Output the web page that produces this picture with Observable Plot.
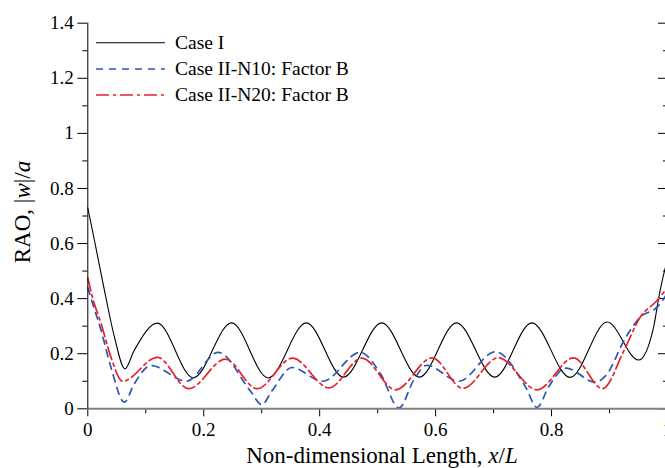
<!DOCTYPE html>
<html><head><meta charset="utf-8">
<script src="https://cdn.jsdelivr.net/npm/d3@7"></script>
<script src="https://cdn.jsdelivr.net/npm/@observablehq/plot@0.6"></script>
<style>html,body{margin:0;padding:0;background:#fff;overflow:hidden}</style>
</head><body><div id="chart"></div>
<script>
// ---- data ----
const seriesNames = ["Case I", "Case II-N10: Factor B", "Case II-N20: Factor B"];

const caseIX = [0, 0.0115, 0.0287, 0.046, 0.064, 0.08, 0.12, 0.182, 0.248, 0.311, 0.377, 0.441, 0.507, 0.572, 0.636, 0.702, 0.766, 0.832, 0.896, 0.95, 0.976, 0.985, 0.995, 1];
const caseIY = [0.73, 0.611, 0.43, 0.26, 0.145, 0.212, 0.311, 0.113, 0.312, 0.112, 0.312, 0.115, 0.312, 0.115, 0.312, 0.115, 0.312, 0.114, 0.315, 0.177, 0.296, 0.405, 0.502, 0.54];

const n10X = [0, 0.0087, 0.023, 0.04, 0.063, 0.08, 0.109, 0.17, 0.225, 0.28, 0.30, 0.318, 0.352, 0.405, 0.47, 0.505, 0.537, 0.562, 0.585, 0.64, 0.703, 0.755, 0.775, 0.795, 0.825, 0.875, 0.896, 0.925, 0.953, 0.982, 1];
const n10Y = [0.44, 0.38, 0.284, 0.15, 0.024, 0.09, 0.157, 0.10, 0.205, 0.066, 0.015, 0.066, 0.15, 0.10, 0.205, 0.127, 0.003, 0.103, 0.158, 0.10, 0.207, 0.08, 0.005, 0.08, 0.148, 0.097, 0.127, 0.248, 0.333, 0.369, 0.42];

const n20X = [0, 0.0087, 0.023, 0.04, 0.06, 0.12, 0.174, 0.2375, 0.292, 0.353, 0.416, 0.473, 0.531, 0.594, 0.647, 0.708, 0.775, 0.838, 0.888, 0.925, 0.953, 0.982, 1];
const n20Y = [0.475, 0.40, 0.309, 0.187, 0.10, 0.187, 0.073, 0.18, 0.073, 0.184, 0.076, 0.184, 0.069, 0.185, 0.074, 0.185, 0.069, 0.185, 0.073, 0.212, 0.333, 0.393, 0.44];

const xMajorTicks = [0, 0.2, 0.4, 0.6, 0.8, 1];
const xMinorTicks = [0.1, 0.3, 0.5, 0.7, 0.9];
const yMajorTicks = [0, 0.2, 0.4, 0.6, 0.8, 1, 1.2, 1.4];
const yMinorTicks = [0.1, 0.3, 0.5, 0.7, 0.9, 1.1, 1.3];

// ---- build ----
const rows = (xs, ys) => xs.map((x, i) => ({x, y: ys[i]}));
const W = 665, H = 468, ML = 87.3, MT = 22.7, MB = 59.7;
const FONT = "'Liberation Serif', 'Times New Roman', serif";
const colors = ["#000000", "#2f55b0", "#e8202a"];
const dashes = [null, "7,6", "13,4,3,4"];
const widths = [1.1, 1.7, 1.7];

const plot = Plot.plot({
  width: W, height: H,
  marginLeft: ML, marginRight: 0, marginTop: MT, marginBottom: MB,
  style: {fontFamily: FONT, fontSize: "19px", background: "white", color: "black", overflow: "hidden"},
  x: {domain: [0, 1], range: [ML, 667]},
  y: {domain: [0, 1.4]},
  marks: [
    Plot.axisY(yMajorTicks, {anchor: "left", tickSize: 10, tickPadding: 4, fontSize: 19, tickFormat: d => String(d), label: null}),
    Plot.axisY(yMinorTicks, {anchor: "left", tickSize: 5, tickFormat: () => "", label: null}),
    Plot.axisY(yMajorTicks, {anchor: "right", tickSize: -8, tickFormat: () => "", label: null}),
    Plot.axisY(yMinorTicks, {anchor: "right", tickSize: -3, tickFormat: () => "", label: null}),
    Plot.axisX(xMajorTicks, {anchor: "bottom", tickSize: 8, tickPadding: 6, fontSize: 19, tickFormat: d => String(d), label: null}),
    Plot.axisX(xMinorTicks, {anchor: "bottom", tickSize: 5, tickFormat: () => "", label: null}),
    Plot.line(rows(caseIX, caseIY), {x: "x", y: "y", stroke: colors[0], strokeWidth: widths[0], curve: "monotone-x"}),
    Plot.line(rows(n10X, n10Y), {x: "x", y: "y", stroke: colors[1], strokeWidth: widths[1], strokeDasharray: dashes[1], curve: "monotone-x"}),
    Plot.line(rows(n20X, n20Y), {x: "x", y: "y", stroke: colors[2], strokeWidth: widths[2], strokeDasharray: dashes[2], curve: "monotone-x"}),
    Plot.ruleY([0], {stroke: "#808080", strokeWidth: 2}),
    Plot.ruleX([0], {stroke: "black", strokeWidth: 1})
  ]
});
document.getElementById("chart").appendChild(plot);

const svg = d3.select(plot);
// axis titles
const yl = svg.append("text")
  .attr("transform", "translate(30,212) rotate(-90)")
  .attr("text-anchor", "middle")
  .style("font-family", FONT).style("font-size", "23px").attr("fill", "black");
yl.append("tspan").text("RAO, |");
yl.append("tspan").style("font-style", "italic").text("w");
yl.append("tspan").text("|/");
yl.append("tspan").style("font-style", "italic").text("a");

const xl = svg.append("text")
  .attr("x", 382).attr("y", 463)
  .attr("text-anchor", "middle")
  .style("font-family", FONT).style("font-size", "23px").attr("fill", "black");
xl.append("tspan").text("Non-dimensional Length, ");
xl.append("tspan").style("font-style", "italic").text("x");
xl.append("tspan").text("/");
xl.append("tspan").style("font-style", "italic").text("L");

// legend
const legY = [42.7, 69, 95];
seriesNames.forEach((name, i) => {
  const g = svg.append("g");
  g.append("line").attr("x1", 96).attr("x2", 165).attr("y1", legY[i]).attr("y2", legY[i])
    .attr("stroke", colors[i]).attr("stroke-width", widths[i])
    .attr("stroke-dasharray", dashes[i]);
  g.append("text").attr("x", 175).attr("y", legY[i]).attr("dy", "0.33em")
    .attr("text-anchor", "start")
    .style("font-family", FONT).style("font-size", "19.5px").attr("fill", "black").text(name);
});
</script>
</body></html>
